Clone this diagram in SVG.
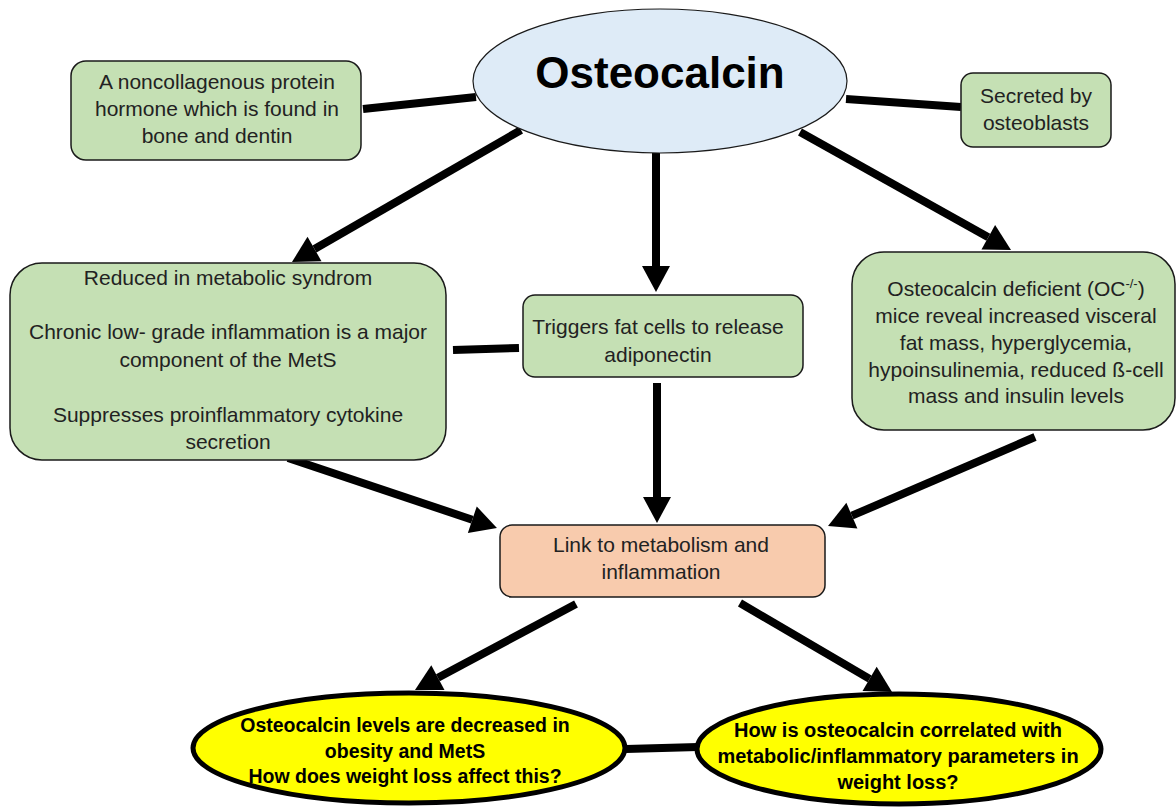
<svg xmlns="http://www.w3.org/2000/svg" width="1176" height="807" viewBox="0 0 1176 807">
<defs>
<style>
.box{fill:#C5E0B4;stroke:#1a1a1a;stroke-width:1.5}
.peach{fill:#F8CBAD;stroke:#1a1a1a;stroke-width:1.5}
.main{fill:#DEEBF7;stroke:#1a1a1a;stroke-width:1.2}
.q{fill:#FFFF00;stroke:#000;stroke-width:5}
.t{font-family:"Liberation Sans",Arial,sans-serif;font-size:21px;fill:#222;text-anchor:middle}
.qt{font-family:"Liberation Sans",Arial,sans-serif;font-size:19.5px;font-weight:bold;fill:#000;text-anchor:middle}
.title{font-family:"Liberation Sans",Arial,sans-serif;font-size:44px;font-weight:bold;fill:#000;text-anchor:middle}
.ln{stroke:#000;stroke-width:8;fill:none}
.ar{stroke:#000;stroke-width:8;fill:none;marker-end:url(#ah)}
</style>
<marker id="ah" markerUnits="userSpaceOnUse" markerWidth="28" markerHeight="30" refX="0" refY="15" orient="auto" overflow="visible">
<path d="M0,1 L26,15 L0,29 Z" fill="#000"/>
</marker>
</defs>
<rect width="1176" height="807" fill="#fff"/>
<g id="connectors">
<line class="ln" x1="363" y1="109" x2="476" y2="97"/>
<line class="ln" x1="846" y1="99" x2="961" y2="107"/>
<line class="ln" x1="453" y1="350" x2="519" y2="348"/>
<line class="ln" x1="626" y1="749" x2="698" y2="747"/>
<line class="ar" x1="521" y1="130" x2="314.5" y2="249"/>
<line class="ar" x1="656" y1="153" x2="656" y2="266"/>
<line class="ar" x1="800" y1="132" x2="988.3" y2="237.3"/>
<line class="ar" x1="657" y1="383" x2="657" y2="497"/>
<line class="ar" x1="288" y1="458" x2="472.3" y2="519.7"/>
<line class="ar" x1="1035" y1="437" x2="851.9" y2="515.7"/>
<line class="ar" x1="576" y1="604" x2="437.9" y2="677.7"/>
<line class="ar" x1="740" y1="603" x2="869.6" y2="678.9"/>
</g>
<g id="osteocalcin">
<ellipse class="main" cx="660" cy="81" rx="187" ry="72"/>
<text class="title" x="660" y="88">Osteocalcin</text>
</g>
<g id="protein">
<rect class="box" x="71" y="61" width="290" height="99" rx="15"/>
<text class="t" x="217" y="89">A noncollagenous protein</text>
<text class="t" x="217" y="116">hormone which is found in</text>
<text class="t" x="217" y="143">bone and dentin</text>
</g>
<g id="secreted">
<rect class="box" x="961" y="73" width="150" height="74" rx="12"/>
<text class="t" x="1036" y="103">Secreted by</text>
<text class="t" x="1036" y="130">osteoblasts</text>
</g>
<g id="metsyndrome">
<rect class="box" x="10" y="263" width="436" height="197" rx="32"/>
<text class="t" x="228" y="285">Reduced in metabolic syndrom</text>
<text class="t" x="228" y="339">Chronic low- grade inflammation is a major</text>
<text class="t" x="228" y="367">component of the MetS</text>
<text class="t" x="228" y="422">Suppresses proinflammatory cytokine</text>
<text class="t" x="228" y="449">secretion</text>
</g>
<g id="triggers">
<rect class="box" x="523" y="295" width="280" height="82" rx="12"/>
<text class="t" x="658" y="334">Triggers fat cells to release</text>
<text class="t" x="658" y="362">adiponectin</text>
</g>
<g id="deficient">
<rect class="box" x="852" y="252" width="323" height="178" rx="32"/>
<text class="t" x="1016" y="296">Osteocalcin deficient (OC<tspan font-size="13" dy="-8">-/-</tspan><tspan dy="8">)</tspan></text>
<text class="t" x="1016" y="323">mice reveal increased visceral</text>
<text class="t" x="1016" y="350">fat mass, hyperglycemia,</text>
<text class="t" x="1016" y="377">hypoinsulinemia, reduced ß-cell</text>
<text class="t" x="1016" y="403">mass and insulin levels</text>
</g>
<g id="link">
<rect class="peach" x="500" y="525" width="325" height="72" rx="12"/>
<text class="t" x="661" y="552">Link to metabolism and</text>
<text class="t" x="661" y="579">inflammation</text>
</g>
<g id="question1">
<ellipse class="q" cx="409" cy="748" rx="216" ry="55"/>
<text class="qt" x="405" y="732">Osteocalcin levels are decreased in</text>
<text class="qt" x="405" y="758">obesity and MetS</text>
<text class="qt" x="405" y="783">How does weight loss affect this?</text>
</g>
<g id="question2">
<ellipse class="q" cx="899" cy="749" rx="202" ry="55"/>
<text class="qt" x="898" y="737" style="font-size:20px">How is osteocalcin correlated with</text>
<text class="qt" x="898" y="763" style="font-size:20px">metabolic/inflammatory parameters in</text>
<text class="qt" x="898" y="789" style="font-size:20px">weight loss?</text>
</g>
</svg>
